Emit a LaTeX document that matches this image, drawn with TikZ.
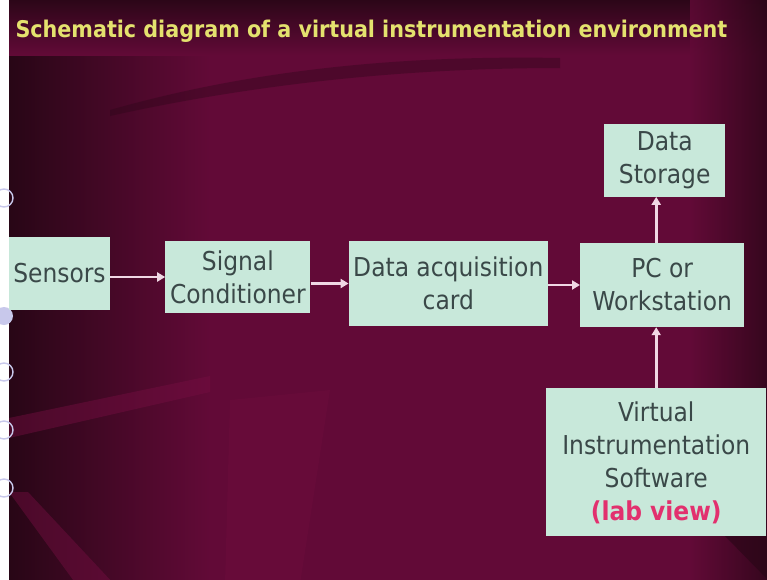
\documentclass[tikz,border=0pt]{standalone}
\usepackage{fontspec}
\setmainfont{DejaVu Sans Condensed}
\usepackage{xcolor}
\usetikzlibrary{positioning,arrows.meta}

\definecolor{slidebg}{RGB}{98,10,55}
\definecolor{slidedark}{RGB}{40,6,22}
\definecolor{slidelight}{RGB}{118,14,66}
\definecolor{boxfill}{RGB}{200,232,218}
\definecolor{boxtext}{RGB}{58,72,72}
\definecolor{titleyellow}{RGB}{228,226,110}
\definecolor{labpink}{RGB}{226,48,110}
\definecolor{arrowpink}{RGB}{240,215,228}
\definecolor{ringcol}{RGB}{200,200,235}

\begin{document}
\begin{tikzpicture}[
    x=1pt, y=-1pt,
    >={Triangle[length=8pt,width=9pt]},
    block/.style={rectangle, fill=boxfill, text=boxtext, align=center, inner sep=2pt,
                  font=\fontsize{26}{33}\selectfont},
    link/.style={->, draw=arrowpink, line width=2.6pt}
]
\useasboundingbox (0,0) rectangle (767,579);

% slide background (filled a little past the page edge)
\fill[white] (-4,-4) rectangle (9,584);
\fill[slidebg] (9,-4) rectangle (772,584);
\shade[left color=slidedark, right color=slidebg] (9,-4) rectangle (210,584);
\shade[top color=slidedark, bottom color=slidebg] (9,-4) rectangle (772,55);
\shade[left color=slidebg, right color=slidedark, opacity=.8] (690,-4) rectangle (772,584);
\fill[slidedark, opacity=.35] (110,110) .. controls (250,70) and (400,55) .. (560,58)
    -- (560,68) .. controls (400,68) and (250,85) .. (110,116) -- cycle;
\fill[slidelight, opacity=.45] (9,418) -- (210,376) -- (210,392) -- (9,438) -- cycle;
\fill[slidelight, opacity=.45] (9,492) -- (28,492) -- (114,584) -- (76,584) -- cycle;
\fill[slidelight, opacity=.25] (230,400) -- (330,390) -- (300,584) -- (225,584) -- cycle;
\fill[slidedark, opacity=.6] (725,536) -- (772,536) -- (772,584) -- cycle;

% rings on the left edge
\draw[ringcol, line width=1.4pt] (4,198) circle (9) (4,372) circle (9)
    (4,430) circle (9) (4,488) circle (9);
\fill[ringcol] (4,316) circle (9);

\node[anchor=west, text=titleyellow, font=\fontsize{23}{27}\selectfont\bfseries] (title)
    at (12,31) {Schematic diagram of a virtual instrumentation environment};

\node[block, minimum width=101pt, minimum height=73pt] (sensors) at (59.5,273.5) {Sensors};
\node[block, minimum width=145pt, minimum height=72pt, right=55pt of sensors, yshift=-3.5pt] (cond) {Signal\\Conditioner};
\node[block, minimum width=199pt, minimum height=85pt, right=38pt of cond, yshift=-6.5pt] (daq) {Data acquisition\\card};
\node[block, minimum width=164pt, minimum height=84pt, right=32pt of daq, yshift=-1.5pt] (pc) {PC or\\Workstation};
\node[block, minimum width=121pt, minimum height=73pt, above=46pt of pc, xshift=2.5pt] (store) {Data\\Storage};
\node[block, minimum width=220pt, minimum height=148pt, below=61pt of pc, xshift=-6pt] (vis)
    {Virtual\\Instrumentation\\Software\\{\color{labpink}\bfseries (lab view)}};

\draw[link] (sensors.east |- cond) -- (cond.west);
\draw[link] (cond.east |- daq) -- (daq.west);
\draw[link] (daq.east |- pc) -- (pc.west);
\draw[link] (vis |- pc.north) -- (vis |- store.south);
\draw[link] (vis.north) -- (vis |- pc.south);

\end{tikzpicture}
\end{document}
